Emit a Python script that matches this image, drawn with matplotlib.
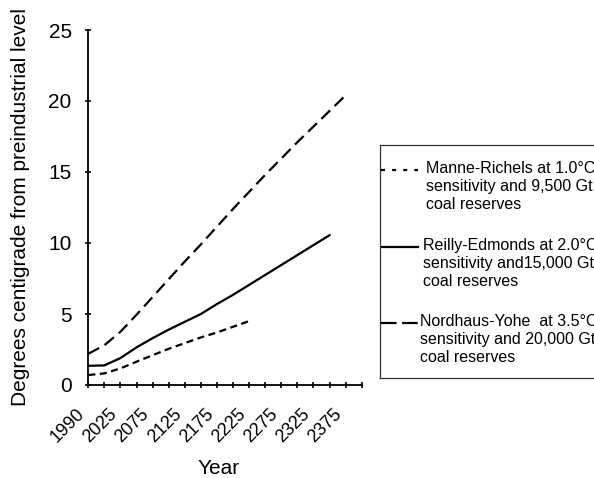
import numpy as np
import matplotlib
matplotlib.use('Agg')
import matplotlib.pyplot as plt

plt.rcParams['font.family'] = ['Liberation Sans', 'DejaVu Sans']

# category axis (Excel style): one tick per category, every other labelled
years = ['1990', '2000', '2025', '2050', '2075', '2100', '2125', '2150', '2175',
         '2200', '2225', '2250', '2275', '2300', '2325', '2350', '2375', '2400']

manne = [0.7, 0.82, 1.17, 1.64, 2.1, 2.55, 2.95, 3.35, 3.7, 4.1, 4.5]
reilly = [1.35, 1.38, 1.9, 2.65, 3.3, 3.9, 4.45, 5.0, 5.7, 6.35, 7.05,
          7.75, 8.45, 9.15, 9.85, 10.55]
nordhaus = [2.2, 2.8, 3.75, 4.95, 6.2, 7.45, 8.7, 9.9, 11.15, 12.4, 13.6,
            14.8, 15.95, 17.1, 18.2, 19.3, 20.4]

labels = ['Manne-Richels at 1.0\u00b0C\nsensitivity and 9,500 Gt\ncoal reserves',
          'Reilly-Edmonds at 2.0\u00b0C\nsensitivity and15,000 Gt\ncoal reserves',
          'Nordhaus-Yohe  at 3.5\u00b0C\nsensitivity and 20,000 Gt\ncoal reserves']

short_dash = (0, (3.2, 2.0))
long_dash = (0, (5.5, 2.8))

fig = plt.figure(figsize=(5.94, 4.78), dpi=100)
ax = fig.add_axes([88.3/594, 1-385/478, 273.4/594, 355/478])

ax.plot(np.arange(len(manne)), manne, color='black', lw=1.6, linestyle=short_dash)
ax.plot(np.arange(len(reilly)), reilly, color='black', lw=1.6, linestyle='-')
ax.plot(np.arange(len(nordhaus)), nordhaus, color='black', lw=1.6, linestyle=long_dash)

ax.set_xlim(0, len(years) - 1)
ax.set_ylim(0, 25)
ax.set_yticks([0, 5, 10, 15, 20, 25])
ax.set_xticks(np.arange(len(years)))
ax.set_xticklabels([y if i % 2 == 0 else '' for i, y in enumerate(years)],
                   rotation=45, ha='right')
ax.spines['top'].set_visible(False)
ax.spines['right'].set_visible(False)
for s in ['left', 'bottom']:
    ax.spines[s].set_linewidth(1.3)
ax.tick_params(direction='inout', length=5, width=1.2)
ax.tick_params(axis='y', labelsize=15, pad=9.5)
ax.tick_params(axis='x', labelsize=13, pad=12)
ax.set_xlabel('Year', fontsize=15)
ax.xaxis.set_label_coords(0.476, -0.208)
ax.set_ylabel('Degrees centigrade from preindustrial level', fontsize=15)
ax.yaxis.set_label_coords(-0.215, 0.5)

# legend box, runs off the right edge like the original
lax = fig.add_axes([380/594, 1-378/478, 240/594, 233/478])
lax.set_xlim(380, 620)
lax.set_ylim(378, 145)
lax.set_xticks([])
lax.set_yticks([])
for s in lax.spines.values():
    s.set_linewidth(0.9)
    s.set_color('#333333')
handle_y = [170, 247, 323]
text_x = [426, 423, 420]
styles = [(0, (1.8, 3.2)), '-', (0, (7, 2.5))]
for hy, tx, st, lab in zip(handle_y, text_x, styles, labels):
    lax.plot([381, 418], [hy, hy], color='black', lw=1.6, linestyle=st)
    lax.text(tx, hy - 9, lab, fontsize=11.5, va='top', ha='left', linespacing=1.25)

fig.savefig('out.png', dpi=100)
